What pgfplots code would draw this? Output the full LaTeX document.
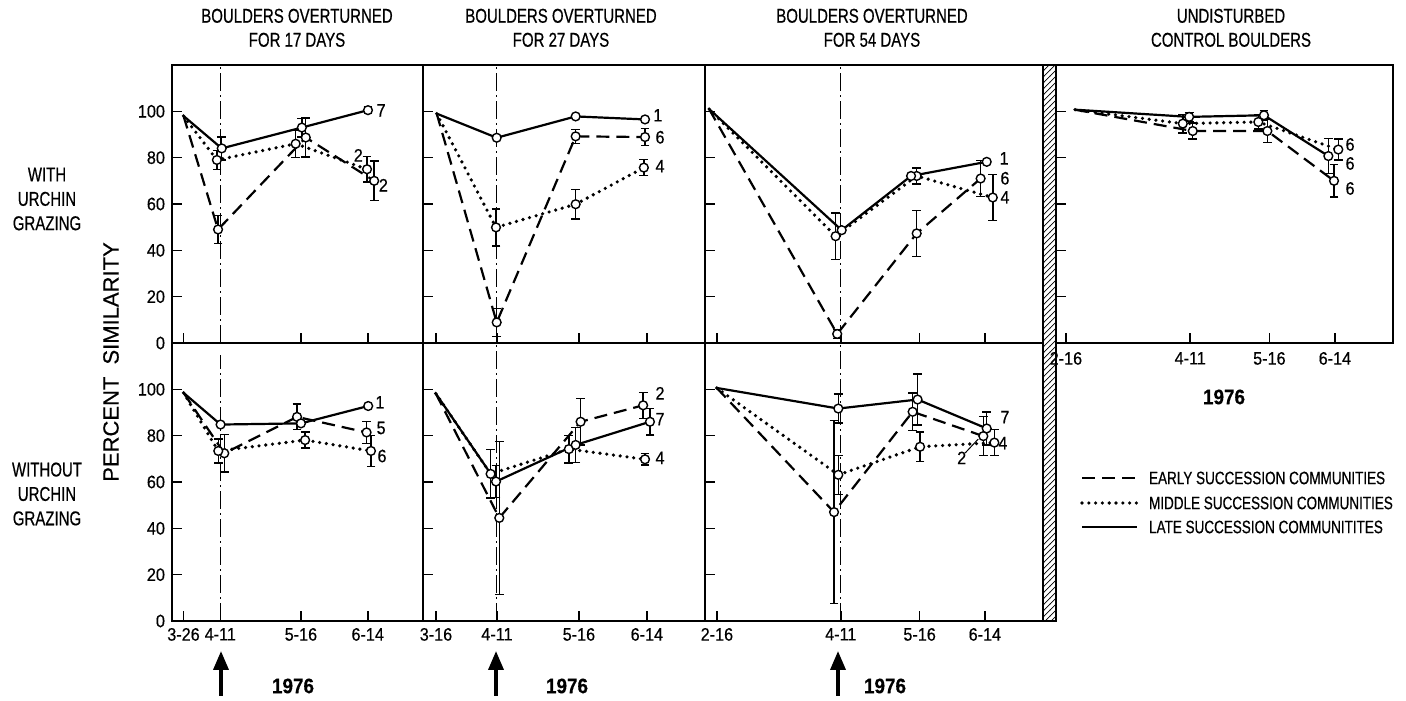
\documentclass[border=0pt]{standalone}
\usepackage{fontspec}
\setmainfont{Liberation Sans}[FakeBold=0.4]
\newfontfamily\cond[FakeStretch=0.75,FakeBold=0.5]{Liberation Sans}
\newfontfamily\tickf[FakeStretch=0.9,FakeBold=0.4]{Liberation Sans}
\usepackage{pgfplots}
\usepackage{pgfplotstable}
\pgfplotsset{compat=1.18}
\usetikzlibrary{patterns,arrows.meta}

% x = day of year 1976, y = percent similarity
% columns: early (e), middle (m), late (l) succession communities
\pgfplotstableread{
xe ye ee xm ym em xl yl el
86 98 0 86 98 0 86 98 0
101 49 6 100.5 79 4 102.6 84 5
139.1 88.7 8.5 134.7 86 6 137.4 93 4
168.8 70 8.6 165.7 75 5.5 166.1 100.5 1.5
}\pAtop
\pgfplotstableread{
xe ye ee xm ym em xl yl el
86 98.5 0 86 98.5 0 86 98.5 0
103.7 72.4 8 101.1 73.4 5.2 102.1 84.8 0
135.3 88.1 5.5 138.8 78.1 3.5 137 85.3 0
165.5 81.4 4.7 167.4 73.4 6.6 166.2 92.8 0
}\pAbot
\pgfplotstableread{
xe ye ee xm ym em xl yl el
76.3 99 0 76.3 99 0 76.3 99 0
101.9 8.9 6 101.6 49.9 8 101.9 88.6 0
135.6 89.2 3 135.6 59.9 6.3 135.6 97.8 0
165.2 88.9 3.7 164.7 75.7 3.4 165.2 96.5 0
}\pBtop
\pgfplotstableread{
xe ye ee xm ym em xl yl el
75.9 98.2 0 75.9 98.2 0 75.9 98.2 0
103 44.5 33 99.3 63.5 10.4 101.6 60.2 7
137.7 86 10 132.7 74.2 6 135.6 76 7.5
164.4 93.1 5.6 165.2 69.8 2.4 167.3 86 5.7
}\pBbot
\pgfplotstableread{
xe ye ee xm ym em xl yl el
43.5 101 0 43.5 101 0 43.5 101 0
100.4 3.9 2 99.7 46.1 10 102.4 48.7 0
135.7 47.3 10 135.7 72.1 3.5 133.2 72.1 0
164.1 71 7.7 169.5 62.8 10 166.8 78.2 0
}\pCtop
\pgfplotstableread{
xe ye ee xm ym em xl yl el
46.9 100.6 0 46.9 100.6 0 46.9 100.6 0
99 47 39.5 100.9 63.1 8.4 100.9 91.7 6.3
133.9 90.3 8.2 137.2 75.2 6.4 136.1 95.6 11
165.3 79.8 8.4 170.2 77 5.6 166.8 83.1 7.2
}\pCbot
\pgfplotstableread{
xe ye ee xm ym em xl yl el
51 100.7 0 51 100.7 0 51 100.7 0
103.1 91.5 3.5 98.7 94.7 4 101.5 97.6 2
136.1 91.5 5 132.1 95.4 3 134.6 98.3 2
165.6 70 7 167.5 83.5 4.5 163.1 80.7 7.5
}\pDtop

\tikzset{
  early/.style={black, line width=1.1pt, dash pattern=on 6.5pt off 3.5pt},
  middle/.style={black, line width=1.8pt, dash pattern=on 0pt off 3.4pt, line cap=round},
  late/.style={black, line width=1.1pt},
  vline/.style={black, line width=0.5pt, dash pattern=on 9pt off 2pt on 1pt off 2pt},
  lab/.style={font=\tickf\fontsize{9}{10}\selectfont, inner sep=0pt},
}
\pgfplotsset{
  panel/.style={
    scale only axis, clip=false,
    height=139pt,
    ymin=0, ymax=120, ytick={0,20,...,100},
    tick align=inside, xtick pos=left, ytick pos=left,
    axis line style={line width=1.3pt},
    major tick length=5pt,
    tick style={black, line width=0.8pt},
    xticklabels={}, yticklabels={},
    tick label style={font=\tickf\fontsize{9}{10}\selectfont},
    /pgf/number format/assume math mode=true,
  },
  pts/.style={black, only marks, mark=*, mark size=2.2pt,
    mark options={solid, fill=white, draw=black, line width=0.7pt},
    error bars/y dir=both, error bars/y explicit,
    error bars/error bar style={solid, line width=0.7pt},
    error bars/error mark options={rotate=90, mark size=2.2pt, line width=0.7pt}},
}

\newcommand\trio[1]{%
  \addplot[early] table[x=xe,y=ye]{#1};
  \addplot[middle] table[x=xm,y=ym]{#1};
  \addplot[late] table[x=xl,y=yl]{#1};
  \addplot[skip coords between index={0}{1}, pts] table[x=xe,y=ye,y error=ee]{#1};
  \addplot[skip coords between index={0}{1}, pts] table[x=xm,y=ym,y error=em]{#1};
  \addplot[skip coords between index={0}{1}, pts] table[x=xl,y=yl,y error=el]{#1};
}

\begin{document}
\begin{tikzpicture}
\begin{scope}[x=0.5pt,y=0.5pt]
\path[use as bounding box] (0,0) rectangle (1406,696);
\end{scope}

% ---- 17 days, with grazing
\begin{axis}[panel, at={(86pt,176.5pt)}, anchor=south west, width=125.5pt,
  xmin=81, xmax=190, xtick={86,102,137,166},
  yticklabels={0,20,40,60,80,100}]
\addplot[vline] coordinates {(102,0) (102,120)};
\trio{\pAtop}
\node[lab] at (axis cs:171.8,100.4) {7};
\node[lab] at (axis cs:161.9,81) {2};
\node[lab] at (axis cs:172.8,68.1) {2};
\end{axis}
% ---- 17 days, without grazing
\begin{axis}[panel, at={(86pt,37.5pt)}, anchor=south west, width=125.5pt,
  xmin=81, xmax=190, xtick={86,102,137,166},
  xticklabels={3-26,4-11,5-16,6-14},
  yticklabels={0,20,40,60,80,100}]
\addplot[vline] coordinates {(102,0) (102,115)};
\trio{\pAbot}
\node[lab] at (axis cs:171.3,94.4) {1};
\node[lab] at (axis cs:171.8,83.3) {5};
\node[lab] at (axis cs:172.2,71.2) {6};
\end{axis}

% ---- 27 days, with grazing
\begin{axis}[panel, at={(211.5pt,176.5pt)}, anchor=south west, width=141pt,
  xmin=70.45, xmax=190.8, xtick={76,102,137,166}]
\addplot[vline] coordinates {(102,0) (102,120)};
\trio{\pBtop}
\node[lab] at (axis cs:170.7,98.3) {1};
\node[lab] at (axis cs:171.6,88.8) {6};
\node[lab] at (axis cs:171.6,76.3) {4};
\end{axis}
% ---- 27 days, without grazing
\begin{axis}[panel, at={(211.5pt,37.5pt)}, anchor=south west, width=141pt,
  xmin=70.45, xmax=190.8, xtick={76,102,137,166},
  xticklabels={3-16,4-11,5-16,6-14}]
\addplot[vline] coordinates {(102,0) (102,120)};
\trio{\pBbot}
\node[lab] at (axis cs:171.6,98.3) {2};
\node[lab] at (axis cs:171.6,87.1) {7};
\node[lab] at (axis cs:171.6,70.4) {4};
\end{axis}

% ---- 54 days, with grazing
\begin{axis}[panel, at={(352.5pt,176.5pt)}, anchor=south west, width=169pt,
  xmin=41.7, xmax=191.8, xtick={47,102,137,166}]
\addplot[vline] coordinates {(102,0) (102,120)};
\trio{\pCtop}
\node[lab] at (axis cs:174.5,79.7) {1};
\node[lab] at (axis cs:174.9,71.1) {6};
\node[lab] at (axis cs:174.9,62.9) {4};
\end{axis}
% ---- 54 days, without grazing
\begin{axis}[panel, at={(352.5pt,37.5pt)}, anchor=south west, width=169pt,
  xmin=41.7, xmax=191.8, xtick={47,102,137,166},
  xticklabels={2-16,4-11,5-16,6-14}]
\addplot[vline] coordinates {(102,0) (102,120)};
\trio{\pCbot}
\node[lab] at (axis cs:174.9,88) {7};
\node[lab] at (axis cs:174,76.8) {4};
\node[lab] at (axis cs:155.7,70.4) {2};
\draw[line width=0.5pt] (axis cs:157.2,72.5) -- (axis cs:163,78.5);
\end{axis}

% ---- undisturbed control
\begin{axis}[panel, at={(528pt,176.5pt)}, anchor=south west, width=168.5pt,
  xmin=42.6, xmax=191.7, xtick={47,102,137,166},
  xticklabels={2-16,4-11,5-16,6-14},
  xticklabel style={yshift=-1pt}]
\trio{\pDtop}
\node[lab] at (axis cs:172.7,85.7) {6};
\node[lab] at (axis cs:172.7,77.5) {6};
\node[lab] at (axis cs:172.7,66.7) {6};
\end{axis}

\begin{scope}[x=0.5pt,y=0.5pt]
% hatched separator
\fill[pattern=north east lines] (1043,75) rectangle (1056,631);
\draw[line width=0.9pt] (1043,75) rectangle (1056,631);
% titles
\begin{scope}[every node/.style={font=\cond\fontsize{10}{12}\selectfont, align=center, anchor=south}]
\node at (297,642) {BOULDERS OVERTURNED\\FOR 17 DAYS};
\node at (561,642) {BOULDERS OVERTURNED\\FOR 27 DAYS};
\node at (872,642) {BOULDERS OVERTURNED\\FOR 54 DAYS};
\node at (1231,642) {UNDISTURBED\\CONTROL BOULDERS};
\end{scope}
% row labels
\begin{scope}[every node/.style={font=\cond\fontsize{10}{12.2}\selectfont, align=center}]
\node at (47,497) {WITH\\URCHIN\\GRAZING};
\node at (47,202) {WITHOUT\\URCHIN\\GRAZING};
\end{scope}
\node[rotate=90, font=\fontsize{11}{12}\selectfont] at (111,334) {PERCENT\hspace{3pt} SIMILARITY};
% years and arrows
\begin{scope}[every node/.style={font=\tickf\bfseries\fontsize{10.5}{12}\selectfont}]
\node at (293,10) {1976};
\node at (567,10) {1976};
\node at (885,10) {1976};
\node at (1224,299) {1976};
\end{scope}
\foreach \ax in {221,496,838}
  \draw[line width=1.8pt, -{Triangle[width=7.5pt,length=9.5pt]}] (\ax,0) -- (\ax,45);
% legend
\draw[early] (1082,218) -- (1137,218);
\draw[middle] (1082,193) -- (1137,193);
\draw[late] (1082,169) -- (1137,169);
\begin{scope}[every node/.style={font=\cond\fontsize{9}{10}\selectfont, anchor=west}]
\node at (1142,218) {EARLY SUCCESSION COMMUNITIES};
\node at (1142,193) {MIDDLE SUCCESSION COMMUNITIES};
\node at (1142,169) {LATE SUCCESSION COMMUNITITES};
\end{scope}
\end{scope}
\end{tikzpicture}
\end{document}
